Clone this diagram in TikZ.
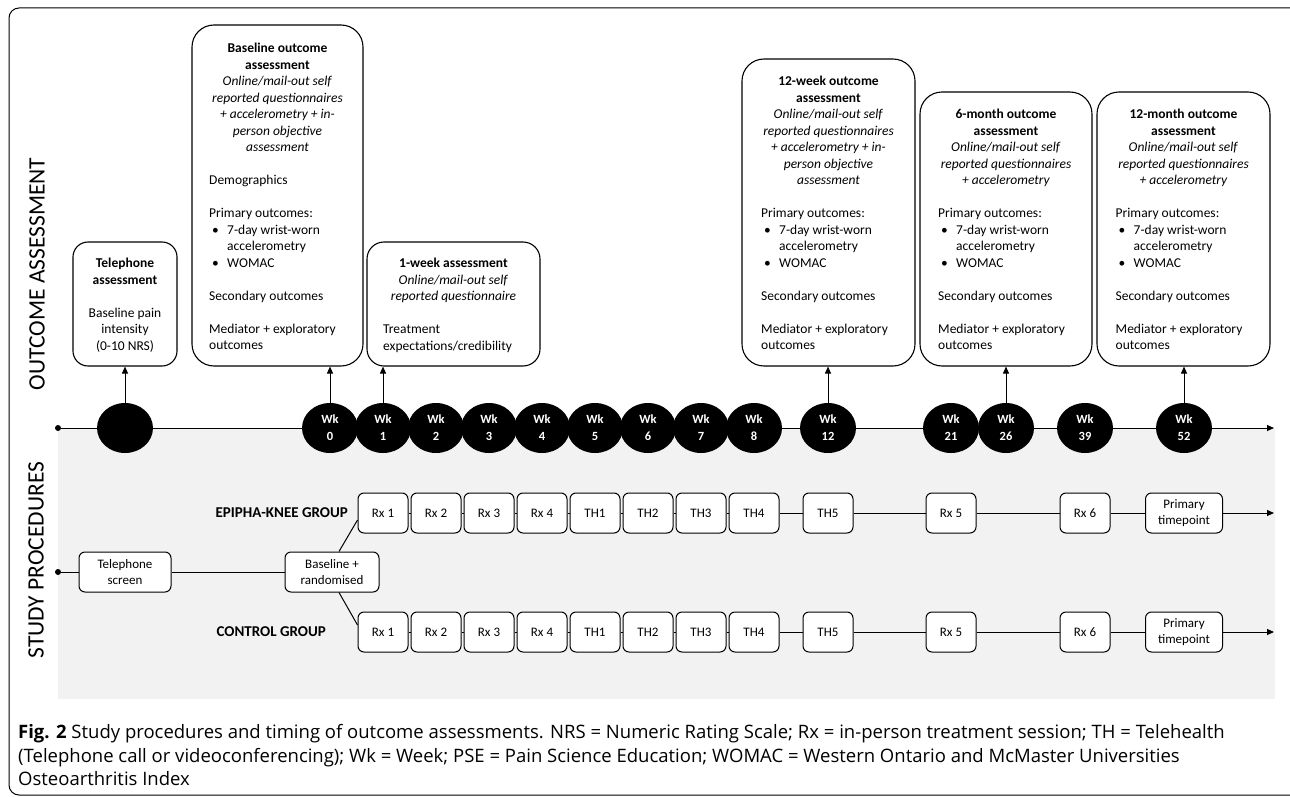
\documentclass[tikz,border=0pt]{standalone}
\usepackage{fontspec}
\setmainfont{Carlito}
\newfontfamily\capfont{Open Sans}
\usetikzlibrary{arrows.meta,calc,shapes.geometric}
\newcommand{\myfs}[2]{\fontsize{#1}{#2}\selectfont}
\newcommand{\bul}[1]{\hspace*{3pt}\makebox[15pt][l]{\textbullet}#1}
\newcommand{\cont}[1]{\hspace*{18pt}#1}
\begin{document}
\begin{tikzpicture}[x=1pt,y=-1pt,
 obox/.style={draw, line width=1.1pt, rounded corners=22pt, fill=white, inner sep=0pt},
 sbox/.style={draw, line width=1pt, rounded corners=6pt, fill=white, minimum height=40pt, minimum width=50pt, inner sep=0pt, align=center, font=\myfs{13}{16.5}},
 wk/.style={ellipse, fill=black, minimum width=56pt, minimum height=50pt, inner sep=0pt, align=center, text=white, font=\bfseries\myfs{12.5}{17}},
 txt/.style={inner sep=0pt, font=\myfs{13.5}{16.5}},
 arr/.style={line width=1pt, -{Triangle[length=7pt,width=6pt]}},
 ln/.style={line width=1pt},
 dot/.style={circle, fill=black, minimum size=6pt, inner sep=0pt},
 side/.style={rotate=90, inner sep=0pt, font=\myfs{23.5}{26}},
 grp/.style={inner sep=0pt, anchor=east, font=\bfseries\myfs{15}{18}}]
\useasboundingbox (0,0) rectangle (1290,797);
\clip (0,0) rectangle (1290,797);
% outer frame
\draw[line width=1pt, rounded corners=10pt] (9,8) rectangle (1320,795);
% grey band
\fill[black!5] (58,428) rectangle (1275,699);
% side labels
\node[side] (oalab) at (37,274) {OUTCOME ASSESSMENT};
\node[side] (splab) at (36,560) {STUDY PROCEDURES};

% outcome boxes
\node[obox, rounded corners=15pt, minimum width=104pt, minimum height=124pt] (telA) at (125,304) {};
\node[obox, minimum width=171pt, minimum height=341pt] (baseA) at (277.5,195.5) {};
\node[obox, rounded corners=17pt, minimum width=173pt, minimum height=124pt] (wkoneA) at (453.5,304) {};
\node[obox, minimum width=173pt, minimum height=307pt] (wtwelveA) at (828.5,212.5) {};
\node[obox, minimum width=172pt, minimum height=274pt] (msixA) at (1006,229) {};
\node[obox, minimum width=173pt, minimum height=274pt] (mtwelveA) at (1183.5,229) {};

% outcome box texts
\node[txt, align=center, anchor=north] (telT) at (125,256) {\strut\textbf{Telephone}\\\textbf{assessment}\\[16.5pt]Baseline pain\\intensity\\(0-10 NRS)};
\node[txt, align=center, anchor=north] (baseH) at (277.5,41) {\strut\textbf{Baseline outcome}\\\textbf{assessment}\\\textit{Online/mail-out self}\\\textit{reported questionnaires}\\\textit{+ accelerometry + in-}\\\textit{person objective}\\\textit{assessment}};
\node[txt, align=left, anchor=north west] (baseB) at (209,173) {\strut Demographics\\[16.5pt]Primary outcomes:\\\bul{7-day wrist-worn}\\\cont{accelerometry}\\\bul{WOMAC}\\[16.5pt]Secondary outcomes\\[16.5pt]Mediator + exploratory\\outcomes};
\node[txt, align=center, anchor=north] (wkoneH) at (453.5,256) {\strut\textbf{1-week assessment}\\\textit{Online/mail-out self}\\\textit{reported questionnaire}};
\node[txt, align=left, anchor=north west] (wkoneB) at (383,322) {\strut Treatment\\expectations/credibility};
\node[txt, align=center, anchor=north] (wtwelveH) at (828.5,74) {\strut\textbf{12-week outcome}\\\textbf{assessment}\\\textit{Online/mail-out self}\\\textit{reported questionnaires}\\\textit{+ accelerometry + in-}\\\textit{person objective}\\\textit{assessment}};
\node[txt, align=left, anchor=north west] (wtwelveB) at (761,206) {\strut Primary outcomes:\\\bul{7-day wrist-worn}\\\cont{accelerometry}\\\bul{WOMAC}\\[16.5pt]Secondary outcomes\\[16.5pt]Mediator + exploratory\\outcomes};
\node[txt, align=center, anchor=north] (msixH) at (1006,107) {\strut\textbf{6-month outcome}\\\textbf{assessment}\\\textit{Online/mail-out self}\\\textit{reported questionnaires}\\\textit{+ accelerometry}};
\node[txt, align=left, anchor=north west] (msixB) at (938,206) {\strut Primary outcomes:\\\bul{7-day wrist-worn}\\\cont{accelerometry}\\\bul{WOMAC}\\[16.5pt]Secondary outcomes\\[16.5pt]Mediator + exploratory\\outcomes};
\node[txt, align=center, anchor=north] (mtwelveH) at (1183.5,107) {\strut\textbf{12-month outcome}\\\textbf{assessment}\\\textit{Online/mail-out self}\\\textit{reported questionnaires}\\\textit{+ accelerometry}};
\node[txt, align=left, anchor=north west] (mtwelveB) at (1115.5,206) {\strut Primary outcomes:\\\bul{7-day wrist-worn}\\\cont{accelerometry}\\\bul{WOMAC}\\[16.5pt]Secondary outcomes\\[16.5pt]Mediator + exploratory\\outcomes};

% timeline
\node[dot] (tdot) at (58,428) {};
\coordinate (tend) at (1274,428);
\draw[arr] (tdot) -- (tend);
\node[wk] (wkblank) at (125,428) {};
\foreach \n/\x in {0/330,1/383,2/436,3/489,4/542,5/595,6/648,7/701,8/754,12/828,21/951,26/1006,39/1085,52/1184}
  \node[wk] (wk\n) at (\x,428) {Wk\\\n};

% arrows to outcome boxes
\draw[arr] (wkblank.north) -- (wkblank.north |- telA.south);
\draw[arr] (wk0.north) -- (wk0.north |- baseA.south);
\draw[arr] (wk1.north) -- (wk1.north |- wkoneA.south);
\draw[arr] (wk12.north) -- (wk12.north |- wtwelveA.south);
\draw[arr] (wk26.north) -- (wk26.north |- msixA.south);
\draw[arr] (wk52.north) -- (wk52.north |- mtwelveA.south);

% study procedures
\node[dot] (sdot) at (58,572) {};
\node[sbox, minimum width=92pt] (tscreen) at (125,572) {Telephone\\screen};
\node[sbox, minimum width=94pt] (rand) at (332,572) {Baseline +\\randomised};
\draw[ln] (sdot) -- (tscreen);
\draw[ln] (tscreen) -- (rand);

\node[grp] (eglab) at (348,513) {EPIPHA-KNEE GROUP};
\node[grp] (cglab) at (326,632) {CONTROL GROUP};

\foreach \r/\y in {e/513,c/632}{
  \foreach \i/\t/\x in {1/Rx 1/383,2/Rx 2/436,3/Rx 3/489,4/Rx 4/542,5/TH1/595,6/TH2/648,7/TH3/701,8/TH4/754,9/TH5/828,10/Rx 5/951,11/Rx 6/1085}
    \node[sbox] (\r\i) at (\x,\y) {\t};
  \node[sbox, minimum width=77pt] (\r12) at (1184,\y) {Primary\\timepoint};
  \coordinate (\r end) at (1274,\y);
  \foreach \i [evaluate=\i as \j using int(\i+1)] in {1,...,11}
    \draw[ln] (\r\i) -- (\r\j);
  \draw[arr] (\r12) -- (\r end);
}
\draw[ln] ($(rand.north)+(7,0)$) -- ($(e1.west)+(0,7)$);
\draw[ln] ($(rand.south)+(7,0)$) -- ($(c1.west)+(0,-7)$);

% caption
\node[inner sep=0pt, anchor=north west, align=left, font=\capfont\myfs{18.5}{23.5}] (cap) at (18,722) {\strut\textbf{Fig. 2} Study procedures and timing of outcome assessments. NRS = Numeric Rating Scale; Rx = in-person treatment session; TH = Telehealth\\(Telephone call or videoconferencing); Wk = Week; PSE = Pain Science Education; WOMAC = Western Ontario and McMaster Universities\\Osteoarthritis Index};
\end{tikzpicture}
\end{document}
